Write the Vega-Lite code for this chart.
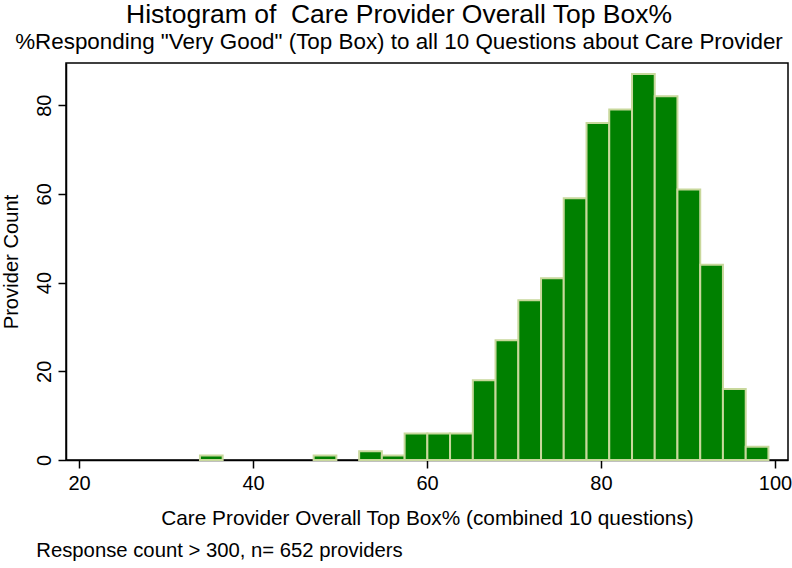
{
  "$schema": "https://vega.github.io/schema/vega-lite/v6.json",
  "padding": {"left": 0, "top": 1, "right": 0, "bottom": 0},
  "background": "white",
  "title": {
    "text": "Response count > 300, n= 652 providers",
    "orient": "bottom",
    "anchor": "start",
    "font": "Liberation Sans",
    "fontSize": 20.3,
    "fontWeight": "normal",
    "color": "#000",
    "dx": 36,
    "offset": 12
  },
  "vconcat": [
    {
      "width": 722,
      "height": 397,
      "title": {
        "text": "Histogram of \u00a0Care Provider Overall Top Box%",
        "subtitle": "%Responding \"Very Good\" (Top Box) to all 10 Questions about Care Provider",
        "font": "Liberation Sans",
        "subtitleFont": "Liberation Sans",
        "fontSize": 26.5,
        "subtitleFontSize": 22.4,
        "fontWeight": "normal",
        "color": "#000",
        "subtitleColor": "#000",
        "anchor": "middle",
        "dx": -28,
        "offset": 10,
        "subtitlePadding": 2
      },
      "data": {
        "values": [
          {"start": 33.90, "end": 36.51, "count": 1},
          {"start": 46.97, "end": 49.58, "count": 1},
          {"start": 52.20, "end": 54.81, "count": 2},
          {"start": 54.81, "end": 57.43, "count": 1},
          {"start": 57.43, "end": 60.04, "count": 6},
          {"start": 60.04, "end": 62.65, "count": 6},
          {"start": 62.65, "end": 65.27, "count": 6},
          {"start": 65.27, "end": 67.88, "count": 18},
          {"start": 67.88, "end": 70.50, "count": 27},
          {"start": 70.50, "end": 73.11, "count": 36},
          {"start": 73.11, "end": 75.72, "count": 41},
          {"start": 75.72, "end": 78.34, "count": 59},
          {"start": 78.34, "end": 80.95, "count": 76},
          {"start": 80.95, "end": 83.57, "count": 79},
          {"start": 83.57, "end": 86.18, "count": 87},
          {"start": 86.18, "end": 88.79, "count": 82},
          {"start": 88.79, "end": 91.41, "count": 61},
          {"start": 91.41, "end": 94.02, "count": 44},
          {"start": 94.02, "end": 96.64, "count": 16},
          {"start": 96.64, "end": 99.25, "count": 3}
        ]
      },
      "mark": {"type": "rect", "fill": "#008000", "stroke": "#c8d89c", "strokeWidth": 2},
      "encoding": {
        "x": {
          "field": "start",
          "type": "quantitative",
          "title": "Care Provider Overall Top Box% (combined 10 questions)",
          "scale": {"domain": [18.5, 101.5], "nice": false, "zero": false},
          "axis": {"values": [20, 40, 60, 80, 100], "labelPadding": 5, "titlePadding": 15, "labelFlush": false, "titleFontSize": 20.8}
        },
        "x2": {"field": "end"},
        "y": {
          "field": "count",
          "type": "quantitative",
          "title": "Provider Count",
          "scale": {"domain": [0, 89.5], "nice": false},
          "axis": {"values": [0, 20, 40, 60, 80], "labelAngle": -90, "labelAlign": "center", "labelBaseline": "bottom", "labelPadding": 4, "titlePadding": 13}
        },
        "y2": {"datum": 0}
      }
    }
  ],
  "config": {
    "view": {"stroke": "#000", "strokeWidth": 1.5},
    "axis": {
      "grid": false,
      "domainColor": "#000",
      "domainWidth": 1.5,
      "tickColor": "#000",
      "tickWidth": 1.5,
      "tickSize": 8,
      "labelColor": "#000",
      "titleColor": "#000",
      "labelFont": "Liberation Sans",
      "titleFont": "Liberation Sans",
      "labelFontSize": 20,
      "titleFontSize": 20.2,
      "titleFontWeight": "normal"
    }
  }
}
